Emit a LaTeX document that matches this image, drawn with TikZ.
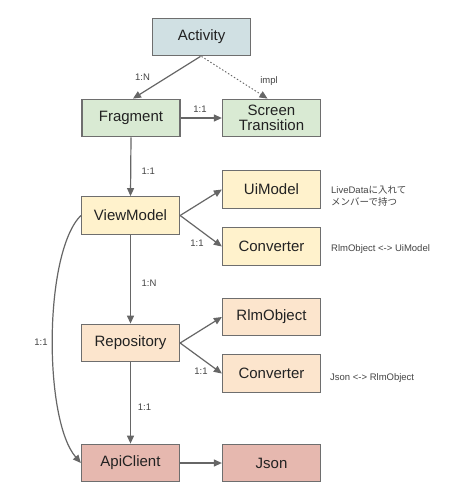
\documentclass[tikz,border=0pt]{standalone}
\usepackage{fontspec}
\setmainfont{Liberation Sans}
\newfontfamily\jpfont{Noto Sans CJK JP}
\usetikzlibrary{arrows.meta}
\definecolor{cblue}{HTML}{D0E0E3}
\definecolor{cgreen}{HTML}{D9EAD3}
\definecolor{cyellow}{HTML}{FFF2CC}
\definecolor{corange}{HTML}{FCE5CD}
\definecolor{cred}{HTML}{E6B8AF}
\definecolor{edgegray}{HTML}{6E6E6E}
\definecolor{linegray}{HTML}{666666}
\definecolor{txtdark}{HTML}{222222}
\definecolor{lbl}{HTML}{444444}
\tikzset{
  box/.style={draw=edgegray, line width=1.3pt, minimum width=98pt, minimum height=37.5pt,
    inner sep=0pt, align=center, font=\fontsize{15}{17}\selectfont, text=txtdark},
  conn/.style={draw=linegray, line width=1.2pt, -{Triangle[length=8pt,width=7pt]}},
  dotconn/.style={draw=linegray, line width=0.9pt, dash pattern=on 1.5pt off 2pt,
    -{Triangle[length=8pt,width=7pt]}},
  lab/.style={font=\fontsize{9.5}{11.5}\selectfont, text=lbl, inner sep=0pt},
}
\begin{document}
\begin{tikzpicture}[x=1pt,y=1pt]
\useasboundingbox (0,0) rectangle (454,-500);
\fill[white] (0,0) rectangle (454,-500);
\node[box, fill=cblue] (act) at (201.5,-37) {Activity};
\node[box, fill=cgreen] (frag) at (131,-118) {Fragment};
\node[box, fill=cgreen] (scr) at (271.5,-118) {Screen\\[-2pt]Transition};
\node[box, fill=cyellow] (vm) at (130.5,-215.5) {ViewModel};
\node[box, fill=cyellow] (ui) at (271.5,-189.5) {UiModel};
\node[box, fill=cyellow] (conv1) at (271.5,-246.5) {Converter};
\node[box, fill=corange] (repo) at (130.5,-343) {Repository};
\node[box, fill=corange] (rlm) at (271.5,-317) {RlmObject};
\node[box, fill=corange] (conv2) at (271.5,-373.5) {Converter};
\node[box, fill=cred] (api) at (130.5,-463) {ApiClient};
\node[box, fill=cred] (json) at (271.5,-463) {Json};

\draw[conn] ([xshift=-1pt]act.south) -- ([xshift=2pt]frag.north);
\draw[dotconn] (act.south) -- ([xshift=-4pt]scr.north);
\draw[conn] (frag.east) -- (scr.west);
\draw[conn] (frag.south) -- (vm.north);
\draw[conn] (vm.east) -- ([yshift=0pt]ui.west);
\draw[conn] (vm.east) -- (conv1.west);
\draw[conn] (vm.south) -- (repo.north);
\draw[conn] (repo.east) -- (rlm.west);
\draw[conn] (repo.east) -- (conv2.west);
\draw[conn] (repo.south) -- (api.north);
\draw[conn] (api.east) -- (json.west);
\draw[conn] (vm.west) .. controls (43.5,-253) and (43.5,-420) .. (api.west);

\node[lab] (l1) at (142.5,-77) {1:N};
\node[lab] (l2) at (269,-81) {impl};
\node[lab] (l3) at (200,-109) {1:1};
\node[lab, anchor=west] (l4) at (141.5,-171) {1:1};
\node[lab] (l5) at (197,-243) {1:1};
\node[lab, anchor=west] (l6) at (141.5,-283) {1:N};
\node[lab] (l7) at (41,-342) {1:1};
\node[lab] (l8) at (201,-371) {1:1};
\node[lab] (l9) at (144.5,-407) {1:1};
\node[lab, anchor=west, align=left] (n1) at (331,-196) {LiveData{\jpfont に入れて}\\{\jpfont メンバーで持つ}};
\node[lab, anchor=west] (n2) at (331,-249) {RlmObject <-> UiModel};
\node[lab, anchor=west] (n3) at (330,-378) {Json <-> RlmObject};
\end{tikzpicture}
\end{document}
